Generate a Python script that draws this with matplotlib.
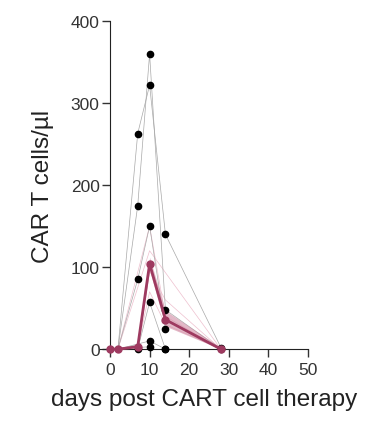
import matplotlib
matplotlib.use('Agg')
import matplotlib.pyplot as plt

plt.rcParams['font.family'] = ['Liberation Sans', 'DejaVu Sans']

# individual patients (black dots, grey lines)
pat_days = [
    [0, 2, 7, 10, 14, 28],
    [0, 2, 7, 10, 14, 28],
    [0, 2, 7, 10, 14],
    [0, 2, 7, 10, 14],
    [0, 2, 10, 14],
    [0, 2, 10],
]
pat_vals = [
    [0, 0, 263, 322, 140, 2],
    [0, 0, 175, 360, 48, 0],
    [0, 0, 85, 150, 25],
    [0, 0, 0, 57, 0],
    [0, 0, 10, 0],
    [0, 0, 3],
]

# other patients (thin pink lines, no dots)
pink_days = [
    [0, 2, 10, 14, 28],
    [0, 2, 7, 10, 14, 28],
    [0, 2, 10, 28],
    [0, 2, 7, 10, 14, 28],
]
pink_vals = [
    [0, 0, 150, 40, 0],
    [0, 0, 5, 95, 60, 0],
    [0, 0, 120, 0],
    [0, 0, 2, 70, 30, 0],
]

# mean with band
mean_days = [0, 2, 7, 10, 14, 28]
mean_vals = [0, 0, 3, 104, 36, 0]
band_lo = [0, 0, 1, 96, 28, 0]
band_hi = [0, 0, 6, 112, 47, 2]

fig = plt.figure(figsize=(3.85, 4.27), dpi=100)
ax = fig.add_axes([0.26, 0.18, 0.54, 0.768])

for d, v in zip(pink_days, pink_vals):
    ax.plot(d, v, color='#eab0c2', lw=0.5, alpha=0.8, zorder=1, clip_on=False)
for d, v in zip(pat_days, pat_vals):
    ax.plot(d, v, color='#a8a8a8', lw=0.5, zorder=2, clip_on=False)
    ax.plot(d[2:], v[2:], 'o', color='black', ms=4.5, zorder=4, clip_on=False)

ax.fill_between(mean_days, band_lo, band_hi, color='#cf8aa2', alpha=0.6, lw=0, zorder=3)
ax.plot(mean_days, mean_vals, color='#9e3a60', lw=2, marker='o', ms=5,
        zorder=5, clip_on=False)

ax.set_xlim(-2.5, 50)
ax.set_ylim(0, 400)
ax.spines['left'].set_position(('data', 0))
ax.spines['top'].set_visible(False)
ax.spines['right'].set_visible(False)
for s in ax.spines.values():
    s.set_color('#222222')
ax.set_xticks([0, 10, 20, 30, 40, 50])
ax.set_yticks([0, 100, 200, 300, 400])
ax.tick_params(labelsize=12.5, length=5.5, width=1, pad=2, colors='#333333')
ax.tick_params(axis='x', pad=4)
ax.set_xlabel('days post CART cell therapy', fontsize=17.5, labelpad=8, color='#222222')
ax.set_ylabel('CAR T cells/µl', fontsize=17.5, labelpad=12, color='#222222')

plt.savefig('out.png', dpi=100)
